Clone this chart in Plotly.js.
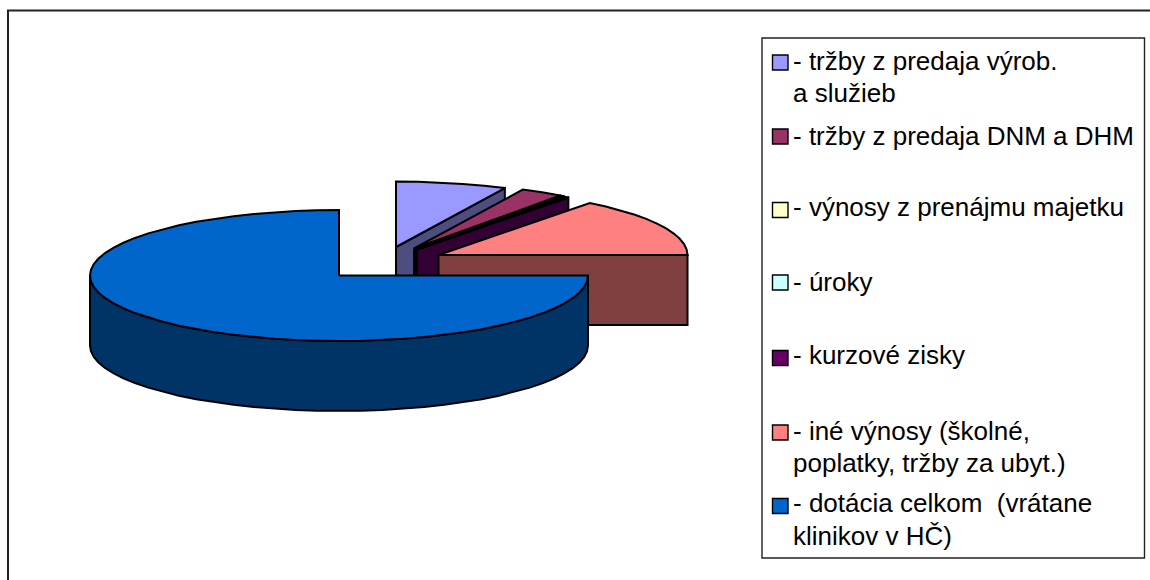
<!DOCTYPE html>
<html><head><meta charset="utf-8">
<script src="https://cdn.plot.ly/plotly-3.0.1.min.js"></script>
<style>html,body{margin:0;padding:0;background:#fff}#c{width:1150px;height:580px}</style>
</head><body><div id="c"></div>
<script>
// Data (percent shares)
const categories = ["tržby z predaja výrob. a služieb","tržby z predaja DNM a DHM","výnosy z prenájmu majetku","úroky","kurzové zisky","iné výnosy (školné, poplatky, tržby za ubyt.)","dotácia celkom (vrátane klinikov v HČ)"];
const shares = [7.2, 2.8, 0.05, 0.05, 0.3, 14.6, 75];
const legendLines = [
  ["- tržby z predaja výrob.","a služieb"],
  ["- tržby z predaja DNM a DHM"],
  ["- výnosy z prenájmu majetku"],
  ["- úroky"],
  ["- kurzové zisky"],
  ["- iné výnosy (školné,","poplatky, tržby za ubyt.)"],
  ["- dotácia celkom  (vrátane","klinikov v HČ)"]
];
// Styles
const topColors  = ["#9999ff","#993366","#ffffcc","#ccffff","#660066","#ff8080","#0066cc"];
const wallColors = ["#4d4d80","#4d1a33","#808066","#668080","#330033","#804040","#003366"];
// Geometry of the projected pie (pixels, the axes map 1:1 to the page)
const rx = 249, ry = 65.5, depth = 70;
const apexX = [396,414,415.5,416,417,438.5,339];
const apexY = [247,248.5,249,249,249.5,255,275.5];
const swatchY = [62.5,136.5,210,282.5,358,432.5,506];
const lineYs  = [[61,93],[136],[207],[282],[355],[431,463],[503,536]];

const FONT = "Liberation Sans, Arial, sans-serif";
const traces = [];
function addPoly(xs, ys, color, name){
  traces.push({type:"scatter",mode:"lines",x:xs,y:ys,fill:"toself",fillcolor:color,
    line:{color:"#000",width:2,shape:"linear"},name:name,hoverinfo:"name",showlegend:false});
}
function rim(cx,cy,a,dy){ // a in degrees clockwise from 12 o'clock
  const r=a*Math.PI/180;
  return [cx+rx*Math.sin(r), cy-ry*Math.cos(r)+(dy||0)];
}
let acc=0;
const total=shares.reduce((p,c)=>p+c,0);
const slices=shares.map((v,i)=>{const a0=acc/total*360;acc+=v;return {i,a0,a1:acc/total*360};});
const STEP=5;
function arcPts(cx,cy,a0,a1,dy){
  const pts=[];const n=Math.max(1,Math.round((a1-a0)/STEP));
  for(let k=0;k<=n;k++){pts.push(rim(cx,cy,a0+(a1-a0)*k/n,dy));}
  return pts;
}
slices.forEach(s=>{
  const cx=apexX[s.i],cy=apexY[s.i],name=categories[s.i];
  if(s.a0<90){ // small slices: end radial wall faces the viewer
    const e=rim(cx,cy,s.a1);
    addPoly([cx,e[0],e[0],cx,cx],[cy,e[1],e[1]+depth,cy+depth,cy],wallColors[s.i],name);
  }
  if(s.a1>90 && s.a0>=90-1e-6){ // big slice: outer wall along the front half
    const lo=Math.max(s.a0,90),hi=Math.min(s.a1,270);
    const top=arcPts(cx,cy,lo,hi,0),bot=arcPts(cx,cy,lo,hi,depth).reverse();
    const p=top.concat(bot);p.push(top[0]);
    addPoly(p.map(q=>q[0]),p.map(q=>q[1]),wallColors[s.i],name);
  }
  const arc=arcPts(cx,cy,s.a0,s.a1,0);
  const p=[[cx,cy]].concat(arc);p.push([cx,cy]);
  addPoly(p.map(q=>q[0]),p.map(q=>q[1]),topColors[s.i],name);
});

const shapes=[
  {type:"rect",xref:"x",yref:"y",x0:8,y0:10.5,x1:1160,y1:590,line:{color:"#222",width:2},fillcolor:"rgba(0,0,0,0)",layer:"below"},
  {type:"rect",xref:"x",yref:"y",x0:762,y0:38,x1:1144.5,y1:558,line:{color:"#222",width:1.4},fillcolor:"#fff",layer:"below"}
];
swatchY.forEach((y,i)=>shapes.push({type:"rect",xref:"x",yref:"y",x0:772.5,x1:788,y0:y-7.5,y1:y+7.5,
  line:{color:"#000",width:1.4},fillcolor:topColors[i],layer:"above"}));
const annotations=[];
legendLines.forEach((ls,i)=>ls.forEach((t,j)=>annotations.push({
  xref:"x",yref:"y",x:792,y:lineYs[i][j],xanchor:"left",yanchor:"middle",text:t.replace(/ /g,"\u00a0"),showarrow:false,
  font:{family:FONT,size:26,color:"#000"},borderpad:0
})));
const layout={width:1150,height:580,margin:{l:0,r:0,t:0,b:0},paper_bgcolor:"#fff",plot_bgcolor:"#fff",
  xaxis:{range:[0,1150],visible:false,fixedrange:true},
  yaxis:{range:[580,0],visible:false,fixedrange:true},
  shapes,annotations,showlegend:false};
Plotly.newPlot("c",traces,layout,{displayModeBar:false,staticPlot:true});
</script></body></html>
